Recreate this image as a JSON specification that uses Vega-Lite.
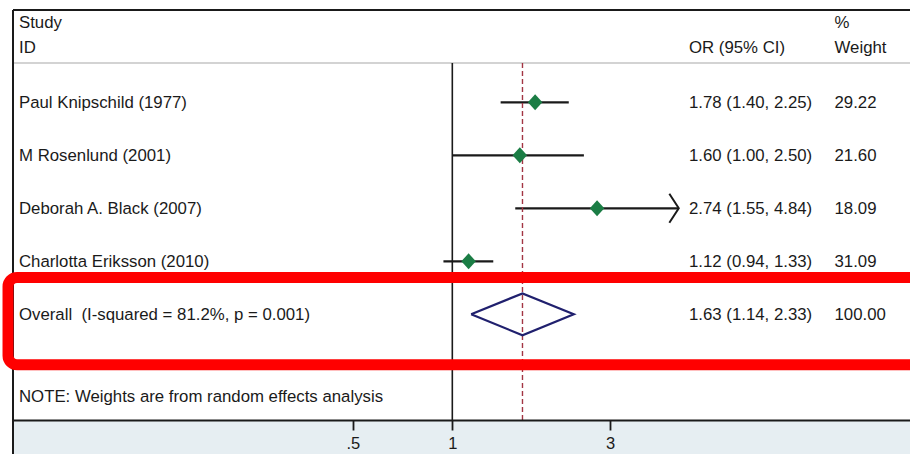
{
  "$schema": "https://vega.github.io/schema/vega-lite/v6.json",
  "width": 897,
  "height": 410,
  "autosize": {"type": "none"},
  "padding": {"left": 13, "top": 10, "right": 0, "bottom": 34},
  "background": "white",
  "config": {
    "view": {"stroke": null},
    "text": {"font": "Liberation Sans", "fontSize": 16.8, "color": "#1a1a1a", "baseline": "middle", "align": "left", "dy": 1}
  },
  "datasets": {
    "rows": [
      {"kind": "study", "study": "Paul Knipschild (1977)", "or": 1.78, "lo": 1.40, "hi": 2.25, "ci": "1.78 (1.40, 2.25)", "weight": "29.22", "row": 1},
      {"kind": "study", "study": "M Rosenlund (2001)", "or": 1.60, "lo": 1.00, "hi": 2.50, "ci": "1.60 (1.00, 2.50)", "weight": "21.60", "row": 2},
      {"kind": "study", "study": "Deborah A. Black (2007)", "or": 2.74, "lo": 1.55, "hi": 4.84, "ci": "2.74 (1.55, 4.84)", "weight": "18.09", "row": 3},
      {"kind": "study", "study": "Charlotta Eriksson (2010)", "or": 1.12, "lo": 0.94, "hi": 1.33, "ci": "1.12 (0.94, 1.33)", "weight": "31.09", "row": 4},
      {"kind": "overall", "study": "Overall\u00a0 (I-squared = 81.2%, p = 0.001)", "or": 1.63, "lo": 1.14, "hi": 2.33, "ci": "1.63 (1.14, 2.33)", "weight": "100.00", "row": 5}
    ],
    "diamond": [
      {"or": 1.14, "y": 5.0, "o": 1},
      {"or": 1.63, "y": 4.605, "o": 2},
      {"or": 2.33, "y": 5.0, "o": 3},
      {"or": 1.63, "y": 5.395, "o": 4},
      {"or": 1.14, "y": 5.0, "o": 5}
    ]
  },
  "layer": [
    {
      "data": {"values": [{}]},
      "mark": {"type": "rect", "color": "#e6eef2"},
      "encoding": {
        "y": {"datum": 6.994, "type": "quantitative", "scale": {"domain": [-0.7415, 6.994], "reverse": true, "nice": false, "zero": false}, "axis": null},
        "y2": {"datum": 7.8}
      }
    },
    {
      "data": {"values": [{}]},
      "mark": {"type": "rule", "color": "#c4c4c4", "strokeWidth": 1.5},
      "encoding": {
        "y": {"datum": 0.2585, "type": "quantitative", "scale": {"domain": [-0.7415, 6.994], "reverse": true, "nice": false, "zero": false}, "axis": null}
      }
    },
    {
      "data": {"values": [{}]},
      "mark": {"type": "rule", "color": "#1a1a1a", "strokeWidth": 2},
      "encoding": {
        "y": {"datum": -0.7415, "type": "quantitative", "scale": {"domain": [-0.7415, 6.994], "reverse": true, "nice": false, "zero": false}, "axis": null}
      }
    },
    {
      "data": {"name": "rows"},
      "transform": [{"filter": "datum.kind == 'study'"}],
      "mark": {"type": "rule", "color": "#1a1a1a", "strokeWidth": 2.2},
      "encoding": {
        "x": {"field": "lo", "type": "quantitative", "scale": {"type": "log", "domain": [0.04692, 24.22], "nice": false, "zero": false},
          "axis": {"orient": "bottom", "values": [0.5, 1, 3], "labelExpr": "datum.value == 0.5 ? '.5' : format(datum.value, 'd')", "title": null, "grid": false, "domain": true, "ticks": true, "labels": true, "domainColor": "#1a1a1a", "domainWidth": 2, "tickColor": "#1a1a1a", "tickWidth": 1.8, "tickSize": 10, "labelFont": "Liberation Sans", "labelFontSize": 16.5, "labelColor": "#1a1a1a", "labelPadding": 5, "zindex": 2, "labelFlush": false, "labelOverlap": false}},
        "x2": {"field": "hi"},
        "y": {"field": "row", "type": "quantitative", "scale": {"domain": [-0.7415, 6.994], "reverse": true, "nice": false, "zero": false}, "axis": null}
      }
    },
    {
      "data": {"values": [{}]},
      "mark": {"type": "rule", "color": "#1a1a1a", "strokeWidth": 2},
      "encoding": {
        "x": {"datum": 0.04692, "type": "quantitative", "scale": {"type": "log", "domain": [0.04692, 24.22], "nice": false, "zero": false}},
        "y": {"datum": -0.7415, "type": "quantitative", "scale": {"domain": [-0.7415, 6.994], "reverse": true, "nice": false, "zero": false}, "axis": null},
        "y2": {"datum": 7.8}
      }
    },
    {
      "data": {"values": [{}]},
      "mark": {"type": "rule", "color": "#1a1a1a", "strokeWidth": 1.6},
      "encoding": {
        "x": {"datum": 1, "type": "quantitative", "scale": {"type": "log", "domain": [0.04692, 24.22], "nice": false, "zero": false}},
        "y": {"datum": 0.2585, "type": "quantitative", "scale": {"domain": [-0.7415, 6.994], "reverse": true, "nice": false, "zero": false}, "axis": null},
        "y2": {"datum": 6.994}
      }
    },
    {
      "data": {"name": "rows"},
      "transform": [{"filter": "datum.kind == 'overall'"}],
      "mark": {"type": "rule", "color": "#a33543", "strokeWidth": 1.4, "strokeDash": [5, 3]},
      "encoding": {
        "x": {"field": "or", "type": "quantitative", "scale": {"type": "log", "domain": [0.04692, 24.22], "nice": false, "zero": false}},
        "y": {"datum": 0.2585, "type": "quantitative", "scale": {"domain": [-0.7415, 6.994], "reverse": true, "nice": false, "zero": false}, "axis": null},
        "y2": {"datum": 6.994}
      }
    },
    {
      "data": {"name": "rows"},
      "transform": [{"filter": "datum.kind == 'study' && datum.hi > 4"}],
      "mark": {"type": "point", "shape": "M-1.3,-2L0,0L-1.3,2", "filled": false, "stroke": "#1a1a1a", "strokeWidth": 2, "size": 210, "opacity": 1},
      "encoding": {
        "x": {"field": "hi", "type": "quantitative", "scale": {"type": "log", "domain": [0.04692, 24.22], "nice": false, "zero": false}},
        "y": {"field": "row", "type": "quantitative", "scale": {"domain": [-0.7415, 6.994], "reverse": true, "nice": false, "zero": false}, "axis": null}
      }
    },
    {
      "data": {"name": "rows"},
      "transform": [{"filter": "datum.kind == 'study'"}],
      "mark": {"type": "point", "shape": "M-1,0L0,-1.1L1,0L0,1.1Z", "filled": true, "color": "#1b7d45", "size": 210, "opacity": 1},
      "encoding": {
        "x": {"field": "or", "type": "quantitative", "scale": {"type": "log", "domain": [0.04692, 24.22], "nice": false, "zero": false}},
        "y": {"field": "row", "type": "quantitative", "scale": {"domain": [-0.7415, 6.994], "reverse": true, "nice": false, "zero": false}, "axis": null}
      }
    },
    {
      "data": {"name": "diamond"},
      "mark": {"type": "line", "color": "#20206e", "strokeWidth": 2.2},
      "encoding": {
        "x": {"field": "or", "type": "quantitative", "scale": {"type": "log", "domain": [0.04692, 24.22], "nice": false, "zero": false}},
        "y": {"field": "y", "type": "quantitative", "scale": {"domain": [-0.7415, 6.994], "reverse": true, "nice": false, "zero": false}, "axis": null},
        "order": {"field": "o", "type": "quantitative"}
      }
    },
    {
      "data": {"name": "rows"},
      "mark": {"type": "text"},
      "encoding": {
        "x": {"datum": 0.04892, "type": "quantitative", "scale": {"type": "log", "domain": [0.04692, 24.22], "nice": false, "zero": false}},
        "y": {"field": "row", "type": "quantitative", "scale": {"domain": [-0.7415, 6.994], "reverse": true, "nice": false, "zero": false}, "axis": null},
        "text": {"field": "study"}
      }
    },
    {
      "data": {"name": "rows"},
      "mark": {"type": "text"},
      "encoding": {
        "x": {"datum": 5.198, "type": "quantitative", "scale": {"type": "log", "domain": [0.04692, 24.22], "nice": false, "zero": false}},
        "y": {"field": "row", "type": "quantitative", "scale": {"domain": [-0.7415, 6.994], "reverse": true, "nice": false, "zero": false}, "axis": null},
        "text": {"field": "ci"}
      }
    },
    {
      "data": {"name": "rows"},
      "mark": {"type": "text"},
      "encoding": {
        "x": {"datum": 14.32, "type": "quantitative", "scale": {"type": "log", "domain": [0.04692, 24.22], "nice": false, "zero": false}},
        "y": {"field": "row", "type": "quantitative", "scale": {"domain": [-0.7415, 6.994], "reverse": true, "nice": false, "zero": false}, "axis": null},
        "text": {"field": "weight"}
      }
    },
    {
      "data": {"values": [{}]},
      "mark": {"type": "text", "text": "Study"},
      "encoding": {
        "x": {"datum": 0.04892, "type": "quantitative", "scale": {"type": "log", "domain": [0.04692, 24.22], "nice": false, "zero": false}},
        "y": {"datum": -0.506, "type": "quantitative", "scale": {"domain": [-0.7415, 6.994], "reverse": true, "nice": false, "zero": false}, "axis": null}
      }
    },
    {
      "data": {"values": [{}]},
      "mark": {"type": "text", "text": "ID"},
      "encoding": {
        "x": {"datum": 0.04892, "type": "quantitative", "scale": {"type": "log", "domain": [0.04692, 24.22], "nice": false, "zero": false}},
        "y": {"datum": -0.034, "type": "quantitative", "scale": {"domain": [-0.7415, 6.994], "reverse": true, "nice": false, "zero": false}, "axis": null}
      }
    },
    {
      "data": {"values": [{}]},
      "mark": {"type": "text", "text": "OR (95% CI)"},
      "encoding": {
        "x": {"datum": 5.198, "type": "quantitative", "scale": {"type": "log", "domain": [0.04692, 24.22], "nice": false, "zero": false}},
        "y": {"datum": -0.034, "type": "quantitative", "scale": {"domain": [-0.7415, 6.994], "reverse": true, "nice": false, "zero": false}, "axis": null}
      }
    },
    {
      "data": {"values": [{}]},
      "mark": {"type": "text", "text": "%"},
      "encoding": {
        "x": {"datum": 14.32, "type": "quantitative", "scale": {"type": "log", "domain": [0.04692, 24.22], "nice": false, "zero": false}},
        "y": {"datum": -0.506, "type": "quantitative", "scale": {"domain": [-0.7415, 6.994], "reverse": true, "nice": false, "zero": false}, "axis": null}
      }
    },
    {
      "data": {"values": [{}]},
      "mark": {"type": "text", "text": "Weight"},
      "encoding": {
        "x": {"datum": 14.32, "type": "quantitative", "scale": {"type": "log", "domain": [0.04692, 24.22], "nice": false, "zero": false}},
        "y": {"datum": -0.034, "type": "quantitative", "scale": {"domain": [-0.7415, 6.994], "reverse": true, "nice": false, "zero": false}, "axis": null}
      }
    },
    {
      "data": {"values": [{}]},
      "mark": {"type": "text", "text": "NOTE: Weights are from random effects analysis"},
      "encoding": {
        "x": {"datum": 0.04892, "type": "quantitative", "scale": {"type": "log", "domain": [0.04692, 24.22], "nice": false, "zero": false}},
        "y": {"datum": 6.542, "type": "quantitative", "scale": {"domain": [-0.7415, 6.994], "reverse": true, "nice": false, "zero": false}, "axis": null}
      }
    },
    {
      "data": {"values": [{}]},
      "mark": {"type": "rect", "fill": "transparent", "stroke": "#ff0000", "strokeWidth": 11, "cornerRadius": 9},
      "encoding": {
        "x": {"datum": 0.04532, "type": "quantitative", "scale": {"type": "log", "domain": [0.04692, 24.22], "nice": false, "zero": false}},
        "x2": {"datum": 30},
        "y": {"datum": 4.306, "type": "quantitative", "scale": {"domain": [-0.7415, 6.994], "reverse": true, "nice": false, "zero": false}, "axis": null},
        "y2": {"datum": 5.951}
      }
    }
  ]
}
